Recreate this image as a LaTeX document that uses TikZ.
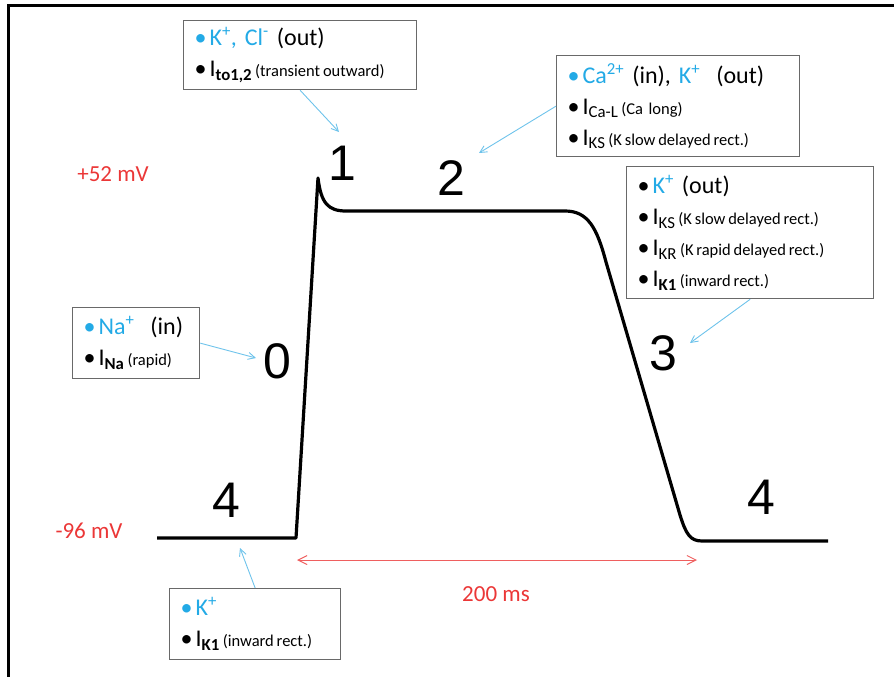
\documentclass[tikz,border=0pt]{standalone}
\usepackage{fontspec}
\setmainfont{Carlito}
\newfontfamily\phasefont{Liberation Sans}
\usetikzlibrary{arrows.meta}

\definecolor{ionblue}{RGB}{35,170,230}
\definecolor{arrowblue}{RGB}{110,195,235}
\definecolor{mvred}{RGB}{235,55,55}
\definecolor{boxgray}{RGB}{105,105,105}

\newcommand{\ionbul}{\textcolor{ionblue}{\textbullet}\hspace{3pt}}
\newcommand{\blkbul}{\textbullet\hspace{3pt}}
\newcommand{\ioncurrent}[2]{\blkbul{\fontsize{24}{31}\selectfont I\textsubscript{#1}}\hspace{3pt}{\fontsize{16.5}{31}\selectfont\spaceskip=0.17em(#2)}}

\tikzset{
	ionbox/.style={draw=boxgray, line width=1.3pt, fill=white, anchor=north west, align=left,
		inner xsep=11pt, inner ysep=4pt, font=\fontsize{24}{31}\selectfont},
	ionarrow/.style={draw=arrowblue, line width=0.9pt, -{Straight Barb[length=7pt,width=7pt]}},
	durarrow/.style={draw=mvred!80, line width=1pt, {Straight Barb[length=9pt,width=9pt]}-{Straight Barb[length=9pt,width=9pt]}},
	apline/.style={line width=3.2pt, line join=round},
	phase/.style={inner sep=0pt, font=\phasefont\fontsize{50}{50}\selectfont},
	mvlabel/.style={inner sep=0pt, text=mvred, font=\fontsize{23}{23}\selectfont},
}

\begin{document}
\begin{tikzpicture}[x=1pt, y=-1pt]
		\useasboundingbox (0,0) rectangle (894,677);
		\draw[line width=3pt] (8,677) |- (894,6);

		% action potential
		\draw[apline] (157,538) -- (296,538) -- (318,178)
			.. controls (321,203) and (328,211) .. (346,211) -- (565,211)
			.. controls (588,211) and (597,228) .. (606,262) -- (680,515)
			.. controls (686,534) and (690,541) .. (702,541) -- (828,541);

		\node[phase] (ph0) at (277,361) {0};
		\node[phase] (ph1) at (342,163) {1};
		\node[phase] (ph2) at (451,178) {2};
		\node[phase] (ph3) at (663,353) {3};
		\node[phase] (ph4a) at (226,500) {4};
		\node[phase] (ph4b) at (761,497) {4};

		\node[mvlabel] (vmax) at (113,174) {+52 mV};
		\node[mvlabel] (vrest) at (89,531) {-96 mV};
		\node[mvlabel] (dur) at (496,594) {200 ms};
		\coordinate (durL) at (297,560);
		\coordinate (durR) at (697,560);
		\draw[durarrow] (durL) -- (durR);

		% ion boxes
		\node[ionbox, text width=211pt, minimum height=69pt] (tobox) at (183,20)
			{\ionbul\textcolor{ionblue}{K\textsuperscript{+}, Cl\textsuperscript{-}} (out)\\
			\ioncurrent{\textbf{to1,2}}{transient outward}};
		\node[ionbox, text width=221pt, minimum height=101pt] (cabox) at (556,55)
			{\ionbul\textcolor{ionblue}{Ca\textsuperscript{2+}} (in), \textcolor{ionblue}{K\textsuperscript{+}}\ \ (out)\\
			\ioncurrent{Ca-L}{Ca\ \ long}\\
			\ioncurrent{KS}{K slow delayed rect.}};
		\node[ionbox, text width=225pt, minimum height=132pt] (krbox) at (626,166)
			{\blkbul\textcolor{ionblue}{K\textsuperscript{+}} (out)\\
			\ioncurrent{KS}{K slow delayed rect.}\\
			\ioncurrent{KR}{K rapid delayed rect.}\\
			\ioncurrent{\textbf{K1}}{inward rect.}};
		\node[ionbox, text width=105pt, minimum height=71pt] (nabox) at (72,307)
			{\ionbul\textcolor{ionblue}{Na\textsuperscript{+}}\ \ (in)\\
			\ioncurrent{\textbf{Na}}{rapid}};
		\node[ionbox, text width=149pt, minimum height=71pt] (kibox) at (169,588)
			{\ionbul\textcolor{ionblue}{K\textsuperscript{+}}\\
			\ioncurrent{\textbf{K1}}{inward rect.}};

		\coordinate (toend) at (339,132);
		\coordinate (caend) at (479,153);
		\coordinate (krend) at (690,343);
		\coordinate (naend) at (256,358);
		\coordinate (kiend) at (240,548);
		\draw[ionarrow] (tobox.south) -- (toend);
		\draw[ionarrow] (cabox.west) -- (caend);
		\draw[ionarrow] (krbox.south) -- (krend);
		\draw[ionarrow] (nabox.east) -- (naend);
		\draw[ionarrow] (kibox.north) -- (kiend);
		% \draw[help lines, step=50] (0,0) grid (894,677);
\end{tikzpicture}
\end{document}
